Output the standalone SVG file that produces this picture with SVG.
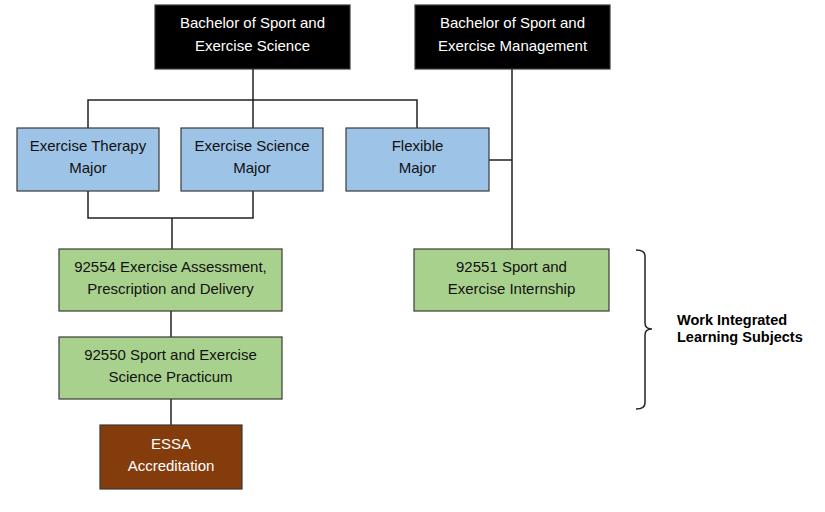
<svg xmlns="http://www.w3.org/2000/svg" width="825" height="512" viewBox="0 0 825 512">
<style>
.box{stroke:#3a3a3a;stroke-width:1.2}
.dark{fill:#000000}
.blue{fill:#9DC3E6}
.green{fill:#A9D18E}
.brown{fill:#843C0C}
text{font-family:"Liberation Sans",Arial,sans-serif;font-size:15px;text-anchor:middle}
.w{fill:#ffffff}
.k{fill:#111111}
.lbl{font-weight:bold;font-size:14.5px;text-anchor:start;fill:#000}
.con{fill:none;stroke:#222222;stroke-width:1.5}
</style>
<rect width="825" height="512" fill="#ffffff"/>
<g id="connectors">
<path class="con" d="M253,69 V100 M88,128 V100 H417 V128 M253,100 V128"/>
<path class="con" d="M88,191 V218 H253 V191 M172,218 V249"/>
<path class="con" d="M512,69 V249 M489,160 H512"/>
<path class="con" d="M171,311 V337 M171,399 V425"/>
</g>
<g id="bses">
<rect class="box dark" x="155" y="5" width="195" height="64"/>
<text class="w" x="252.5" y="28">Bachelor of Sport and</text>
<text class="w" x="252.5" y="51">Exercise Science</text>
</g>
<g id="bsem">
<rect class="box dark" x="415" y="5" width="195" height="64"/>
<text class="w" x="512.5" y="28">Bachelor of Sport and</text>
<text class="w" x="512.5" y="51">Exercise Management</text>
</g>
<g id="exercise-therapy">
<rect class="box blue" x="17" y="128" width="142" height="63"/>
<text class="k" x="88" y="151">Exercise Therapy</text>
<text class="k" x="88" y="173">Major</text>
</g>
<g id="exercise-science">
<rect class="box blue" x="181" y="128" width="142" height="63"/>
<text class="k" x="252" y="151">Exercise Science</text>
<text class="k" x="252" y="173">Major</text>
</g>
<g id="flexible">
<rect class="box blue" x="346" y="128" width="143" height="63"/>
<text class="k" x="417.5" y="151">Flexible</text>
<text class="k" x="417.5" y="173">Major</text>
</g>
<g id="s92554">
<rect class="box green" x="59" y="249" width="223" height="62"/>
<text class="k" x="170.5" y="272">92554 Exercise Assessment,</text>
<text class="k" x="170.5" y="294">Prescription and Delivery</text>
</g>
<g id="s92550">
<rect class="box green" x="59" y="337" width="223" height="62"/>
<text class="k" x="170.5" y="359.5">92550 Sport and Exercise</text>
<text class="k" x="170.5" y="381.5">Science Practicum</text>
</g>
<g id="essa">
<rect class="box brown" x="100" y="425" width="142" height="64"/>
<text class="w" x="171" y="448.5">ESSA</text>
<text class="w" x="171" y="470.5">Accreditation</text>
</g>
<g id="s92551">
<rect class="box green" x="414" y="249" width="195" height="62"/>
<text class="k" x="511.5" y="272">92551 Sport and</text>
<text class="k" x="511.5" y="294">Exercise Internship</text>
</g>
<g id="wil-bracket">
<path class="con" d="M636,250 Q645,250 645,256 V323 Q645,329 652,329 Q645,329 645,335 V403 Q645,409 636,409"/>
<text class="lbl" x="677" y="325">Work Integrated</text>
<text class="lbl" x="677" y="342">Learning Subjects</text>
</g>
</svg>
